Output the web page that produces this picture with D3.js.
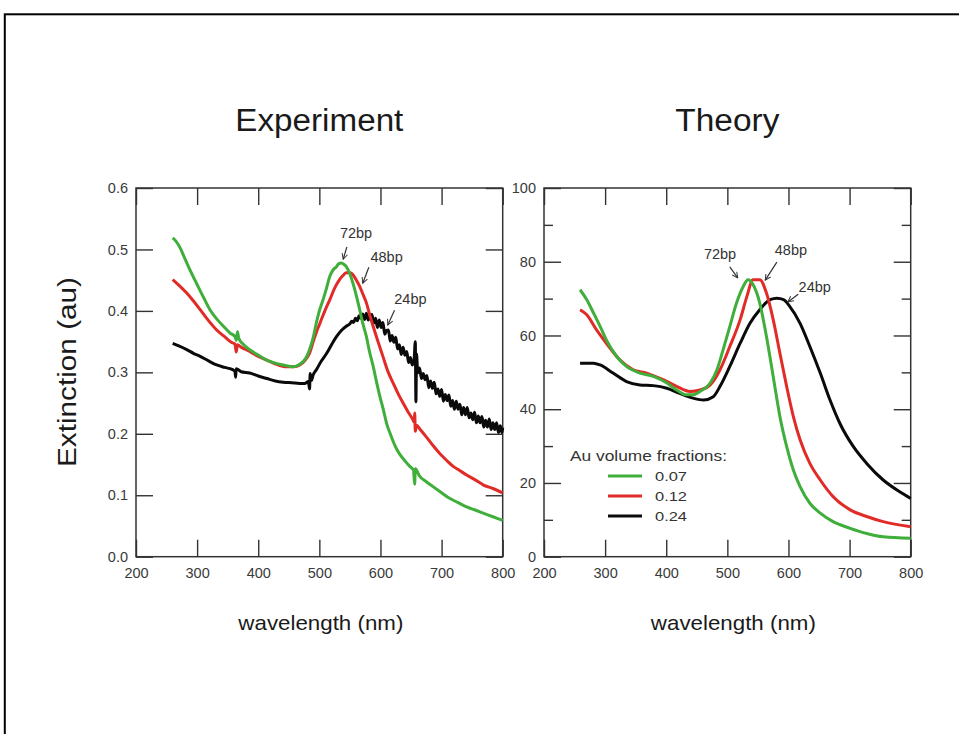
<!DOCTYPE html>
<html><head><meta charset="utf-8">
<script src="https://cdn.jsdelivr.net/npm/d3@7"></script>
<style>
html,body{margin:0;padding:0;background:#fff;}
svg{display:block;font-family:"Liberation Sans",Arial,Helvetica,sans-serif;}
</style></head>
<body>
<svg id="chart" width="959" height="734"></svg>
<script>
// ---------- data ----------
const wavelengthTicks = [200, 300, 400, 500, 600, 700, 800];
const expTicks = [0, 0.1, 0.2, 0.3, 0.4, 0.5, 0.6];
const theoryTicks = [0, 20, 40, 60, 80, 100];
const theoryMinorTicks = [10, 30, 50, 70, 90];
const panelTitles = ["Experiment", "Theory"];
const yAxisTitle = "Extinction (au)";
const xAxisTitle = "wavelength (nm)";
const legendTitle = "Au volume fractions:";
const seriesNames = ["0.07", "0.12", "0.24"];
const seriesColors = ["#3fae3a", "#e12b26", "#0a0a0a"];

// Experiment: [wavelength nm, extinction au]
const expGreen = [[260,0.519],[265,0.514],[272,0.503],[280,0.485],[290,0.463],[299,0.445],[310,0.423],[321,0.402],[332,0.387],[343,0.375],[354,0.364],[362,0.358],[364,0.352],[366,0.366],[368,0.356],[375,0.346],[386,0.337],[400,0.328],[414,0.320],[428,0.315],[441,0.312],[457,0.309],[466,0.312],[474,0.318],[480,0.327],[484,0.337],[490,0.357],[495,0.380],[500,0.400],[506,0.418],[512,0.438],[517,0.456],[522,0.466],[528,0.472],[532,0.477],[536,0.478],[540,0.476],[544,0.472],[550,0.460],[555,0.445],[560,0.427],[566,0.402],[571,0.380],[577,0.358],[582,0.334],[588,0.310],[593,0.287],[599,0.261],[605,0.238],[610,0.217],[616,0.200],[621,0.187],[626,0.176],[632,0.166],[640,0.156],[648,0.147],[654,0.141],[656,0.118],[657,0.143],[664,0.131],[675,0.122],[686,0.114],[700,0.104],[713,0.095],[727,0.088],[741,0.081],[755,0.076],[768,0.071],[784,0.065],[800,0.059]];
const expRed = [[260,0.451],[270,0.442],[283,0.429],[294,0.416],[305,0.402],[318,0.385],[332,0.369],[345,0.358],[356,0.349],[362,0.346],[364,0.333],[366,0.345],[372,0.341],[386,0.334],[400,0.326],[414,0.320],[430,0.313],[446,0.309],[458,0.309],[468,0.312],[476,0.319],[484,0.331],[490,0.350],[495,0.365],[501,0.380],[509,0.400],[517,0.418],[525,0.437],[533,0.451],[539,0.458],[544,0.462],[550,0.462],[555,0.459],[560,0.451],[566,0.440],[571,0.428],[577,0.413],[582,0.395],[588,0.375],[596,0.350],[604,0.326],[612,0.302],[621,0.282],[629,0.265],[637,0.250],[645,0.236],[653,0.223],[655,0.219],[656,0.234],[657,0.204],[659,0.214],[665,0.207],[675,0.195],[686,0.181],[697,0.168],[708,0.157],[719,0.147],[730,0.140],[741,0.133],[755,0.125],[768,0.117],[784,0.111],[800,0.104]];
const expBlack = [[260,0.347],[270,0.343],[283,0.337],[294,0.331],[305,0.326],[318,0.319],[332,0.312],[345,0.308],[359,0.304],[362,0.301],[363,0.292],[364,0.306],[372,0.301],[386,0.299],[400,0.294],[414,0.290],[428,0.286],[441,0.284],[455,0.283],[468,0.282],[476,0.282],[482,0.285],[484,0.273],[485,0.298],[487,0.287],[490,0.296],[495,0.304],[503,0.318],[512,0.331],[520,0.345],[528,0.358],[536,0.368],[544,0.375],[550,0.379],
 [553,0.383],[556,0.381],[559,0.388],[562,0.384],[565,0.392],[568,0.388],[571,0.395],[574,0.386],[577,0.396],[580,0.385],[583,0.392],[586,0.394],[589,0.380],[592,0.388],[595,0.373],[598,0.385],[601,0.373],[604,0.381],[607,0.362],[610,0.368],[613,0.369],[616,0.351],[619,0.360],[622,0.349],[625,0.357],[628,0.338],[631,0.345],[634,0.329],[637,0.341],[640,0.328],[643,0.334],[646,0.316],[649,0.324],[652,0.312],[655,0.321],[657,0.350],[658,0.252],[659,0.330],
 [661,0.299],[664,0.307],[667,0.290],[670,0.298],[673,0.288],[676,0.295],[679,0.275],[682,0.286],[685,0.274],[688,0.284],[691,0.265],[694,0.273],[697,0.261],[700,0.272],[703,0.253],[706,0.264],[709,0.254],[712,0.263],[715,0.245],[718,0.254],[721,0.240],[724,0.253],[727,0.240],[730,0.248],[733,0.231],[736,0.243],[739,0.231],[742,0.243],[745,0.226],[748,0.234],[751,0.223],[754,0.235],[757,0.218],[760,0.229],[763,0.218],[766,0.228],[769,0.211],[772,0.222],[775,0.211],[778,0.224],[781,0.207],[784,0.218],[787,0.207],[790,0.218],[793,0.202],[796,0.213],[799,0.202],[800,0.210]];

// Theory: [wavelength nm, extinction]
const thGreen = [[259,72.4],[270,69.7],[281,66.1],[292,62.4],[302,58.8],[319,54.3],[335,51.6],[357,49.8],[379,48.9],[401,47.1],[417,45.2],[433,43.9],[444,43.9],[455,44.8],[472,47.1],[483,50.7],[493,56.1],[504,62.4],[515,68.8],[526,73.3],[534,75.1],[542,73.8],[553,68.8],[564,59.7],[575,48.9],[586,38.0],[597,29.9],[608,23.5],[619,19.0],[635,14.5],[652,11.8],[673,9.5],[701,7.7],[728,6.3],[755,5.4],[800,5.0]];
const thRed = [[259,67.0],[270,65.6],[286,61.5],[302,57.9],[324,53.4],[346,50.7],[368,49.8],[395,48.0],[417,46.2],[439,44.8],[455,45.2],[472,46.6],[488,50.7],[504,57.0],[521,64.3],[532,70.6],[542,75.1],[553,75.1],[564,71.5],[575,64.3],[586,55.2],[597,46.2],[608,38.0],[619,31.7],[635,25.3],[652,20.8],[673,16.3],[701,12.7],[728,10.9],[755,9.5],[800,8.1]];
const thBlack = [[259,52.5],[281,52.5],[292,52.0],[313,49.8],[335,47.5],[357,46.6],[379,46.4],[401,45.7],[422,44.3],[444,43.0],[461,42.5],[477,43.4],[488,46.2],[504,51.6],[521,57.9],[537,63.3],[553,67.0],[570,69.7],[581,70.1],[592,69.7],[602,67.9],[619,63.3],[635,57.0],[652,49.8],[668,42.5],[684,36.2],[706,29.9],[728,25.3],[755,20.8],[782,17.6],[800,15.8]];

// Peak labels: [text, labelX, labelY, arrowFromX, arrowFromY, arrowToX, arrowToY] in data units
const expLabels = [["72bp",560,0.519,545,0.504,539,0.484],["48bp",610,0.480,581,0.471,571,0.445],["24bp",649,0.411,623,0.401,612,0.377]];
const thLabels = [["72bp",488,80.7,504,78.6,517,75.6],["48bp",604,81.8,581,79.9,562,75.0],["24bp",643,71.8,616,71.2,599,69.1]];

// ---------- drawing ----------
const svg = d3.select("#chart");
svg.append("rect").attr("x",4.8).attr("y",14.3).attr("width",1000).attr("height",800)
  .attr("fill","none").attr("stroke","#000").attr("stroke-width",2);

const defs = svg.append("defs");
defs.append("marker").attr("id","arr").attr("viewBox","0 0 10 10").attr("refX",9).attr("refY",5)
  .attr("markerWidth",7).attr("markerHeight",7).attr("orient","auto").attr("markerUnits","userSpaceOnUse")
  .append("path").attr("d","M1,1 L9,5 L1,9").attr("fill","none").attr("stroke","#333").attr("stroke-width",1.4);

const plotTop = 188, plotBottom = 556.7;
const panels = [
  {x0:136, x1:502.7, yDomain:[0,0.6], ticks:expTicks, fmt:d3.format(".1f"), minor:[], series:[expGreen,expRed,expBlack], labels:expLabels, title:panelTitles[0]},
  {x0:544, x1:910.7, yDomain:[0,100], ticks:theoryTicks, fmt:d3.format("d"), minor:theoryMinorTicks, series:[thGreen,thRed,thBlack], labels:thLabels, title:panelTitles[1]}
];

panels.forEach((p, i) => {
  const x = d3.scaleLinear().domain([200,800]).range([p.x0,p.x1]);
  const y = d3.scaleLinear().domain(p.yDomain).range([plotBottom,plotTop]);
  const g = svg.append("g");
  const tickStyle = sel => {
    sel.select(".domain").remove();
    sel.selectAll(".tick line").attr("stroke","#333").attr("stroke-width",1.4);
    sel.selectAll(".tick text").attr("fill","#3a3a3a").style("font-size","14.5px")
      .style("font-family","'Liberation Sans',Arial,sans-serif");
  };
  g.append("g").attr("transform",`translate(0,${plotBottom})`)
    .call(d3.axisBottom(x).tickValues(wavelengthTicks).tickSizeInner(-17).tickSizeOuter(0).tickPadding(11).tickFormat(d3.format("d")))
    .call(tickStyle);
  g.append("g").attr("transform",`translate(0,${plotTop})`)
    .call(d3.axisTop(x).tickValues(wavelengthTicks).tickSizeInner(-17).tickSizeOuter(0).tickFormat(""))
    .call(tickStyle);
  g.append("g").attr("transform",`translate(${p.x0},0)`)
    .call(d3.axisLeft(y).tickValues(p.ticks).tickSizeInner(-17).tickSizeOuter(0).tickPadding(8).tickFormat(p.fmt))
    .call(tickStyle);
  g.append("g").attr("transform",`translate(${p.x1},0)`)
    .call(d3.axisRight(y).tickValues(p.ticks).tickSizeInner(-17).tickSizeOuter(0).tickFormat(""))
    .call(tickStyle);
  if (p.minor.length) {
    g.append("g").attr("transform",`translate(${p.x0},0)`)
      .call(d3.axisLeft(y).tickValues(p.minor).tickSizeInner(-9).tickSizeOuter(0).tickFormat(""))
      .call(tickStyle);
    g.append("g").attr("transform",`translate(${p.x1},0)`)
      .call(d3.axisRight(y).tickValues(p.minor).tickSizeInner(-9).tickSizeOuter(0).tickFormat(""))
      .call(tickStyle);
  }
  // frame
  g.append("rect").attr("x",p.x0).attr("y",plotTop).attr("width",p.x1-p.x0).attr("height",plotBottom-plotTop)
    .attr("fill","none").attr("stroke","#333").attr("stroke-width",1.5);

  const line = d3.line().curve(d3.curveMonotoneX).x(d => x(d[0])).y(d => y(d[1]));
  // draw black first, then red, then green on top
  [2,1,0].forEach(k => {
    g.append("path").datum(p.series[k]).attr("d",line).attr("fill","none")
      .attr("stroke",seriesColors[k]).attr("stroke-width",3).attr("stroke-linejoin","round");
  });

  // peak labels
  p.labels.forEach(l => {
    g.append("text").attr("x",x(l[1])).attr("y",y(l[2])).attr("text-anchor","middle")
      .attr("fill","#333").style("font-size","14.5px").text(l[0]);
    g.append("line").attr("x1",x(l[3])).attr("y1",y(l[4])).attr("x2",x(l[5])).attr("y2",y(l[6]))
      .attr("stroke","#333").attr("stroke-width",1.2).attr("marker-end","url(#arr)");
  });

  // titles
  const cx = (p.x0 + p.x1) / 2;
  g.append("text").attr("x",cx).attr("y",130.7).attr("text-anchor","middle").attr("fill","#1a1a1a")
    .style("font-size","31px").attr("textLength", i === 0 ? 168 : 104).attr("lengthAdjust","spacingAndGlyphs").text(p.title);
  g.append("text").attr("x",cx + (i===0 ? 1.5 : 6)).attr("y",630).attr("text-anchor","middle").attr("fill","#1a1a1a")
    .style("font-size","21px").attr("textLength",165).attr("lengthAdjust","spacingAndGlyphs").text(xAxisTitle);
});

// y axis title
svg.append("text").attr("transform","translate(76,372) rotate(-90)").attr("text-anchor","middle")
  .attr("fill","#1a1a1a").style("font-size","25px").attr("textLength",190).attr("lengthAdjust","spacingAndGlyphs").text(yAxisTitle);

// legend (inside theory panel)
const leg = svg.append("g");
leg.append("text").attr("x",570).attr("y",460.7).attr("fill","#333").style("font-size","15px")
  .attr("textLength",157).attr("lengthAdjust","spacingAndGlyphs").text(legendTitle);
seriesNames.forEach((s, k) => {
  const yy = 476 + k * 20;
  leg.append("line").attr("x1",608).attr("x2",642).attr("y1",yy).attr("y2",yy)
    .attr("stroke",seriesColors[k]).attr("stroke-width",3);
  leg.append("text").attr("x",655).attr("y",yy + 4.8).attr("fill","#333").style("font-size","13.5px")
    .attr("textLength",32).attr("lengthAdjust","spacingAndGlyphs").text(s);
});
</script>
</body></html>
